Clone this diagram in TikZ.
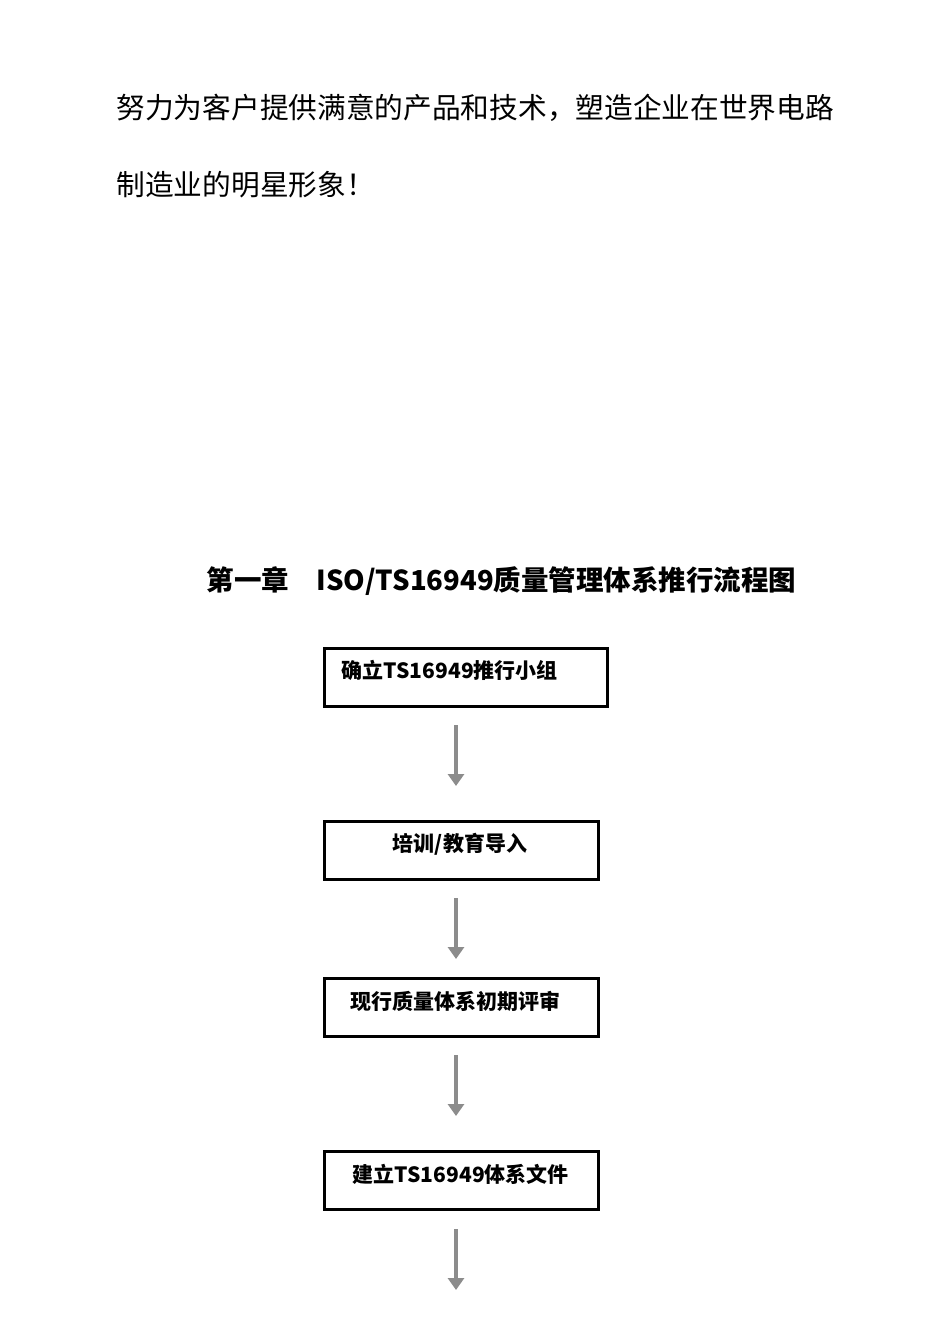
\documentclass[tikz,border=0pt]{standalone}
\usepackage{fontspec}
\setmainfont{Noto Sans CJK SC}
\usetikzlibrary{arrows.meta}
\begin{document}
\begin{tikzpicture}[x=1pt,y=-1pt,
  stepbox/.style={draw,line width=2.5pt,minimum height=58pt,anchor=north west,inner sep=0pt},
  arr/.style={draw=gray!90,line width=4pt,-{Triangle[length=12pt,width=16pt]}}]
\useasboundingbox[fill=white] (0,0) rectangle (950,1344);
\node[anchor=west,font=\fontsize{28.7pt}{32pt}\selectfont] (l1) at (113,108) {努力为客户提供满意的产品和技术，塑造企业在世界电路};
\node[anchor=west,font=\fontsize{28.7pt}{32pt}\selectfont] (l2) at (113,185) {制造业的明星形象！};
\node[anchor=west,font=\bfseries\fontsize{27.5pt}{30pt}\selectfont] (t) at (203,581) {第一章\hspace{1em}ISO/TS16949质量管理体系推行流程图};
\node[stepbox,minimum width=283pt] (b1) at (323,647) {};
\node[anchor=west,font=\bfseries\fontsize{21pt}{24pt}\selectfont] at (338,670) {确立TS16949推行小组};
\node[stepbox,minimum width=274pt] (b2) at (323,820) {};
\node[font=\bfseries\fontsize{21pt}{24pt}\selectfont] at (460,844) {培训/教育导入};
\node[stepbox,minimum width=274pt] (b3) at (323,977) {};
\node[anchor=west,font=\bfseries\fontsize{21pt}{24pt}\selectfont] at (347,1001) {现行质量体系初期评审};
\node[stepbox,minimum width=274pt] (b4) at (323,1150) {};
\node[anchor=west,font=\bfseries\fontsize{21pt}{24pt}\selectfont] at (349,1174) {建立TS16949体系文件};
\coordinate (a1s) at (456,725); \coordinate (a1e) at (456,786);
\coordinate (a2s) at (456,898); \coordinate (a2e) at (456,959);
\coordinate (a3s) at (456,1055); \coordinate (a3e) at (456,1116);
\coordinate (a4s) at (456,1229); \coordinate (a4e) at (456,1290);
\draw[arr] (a1s) -- (a1e);
\draw[arr] (a2s) -- (a2e);
\draw[arr] (a3s) -- (a3e);
\draw[arr] (a4s) -- (a4e);
\end{tikzpicture}
\end{document}
